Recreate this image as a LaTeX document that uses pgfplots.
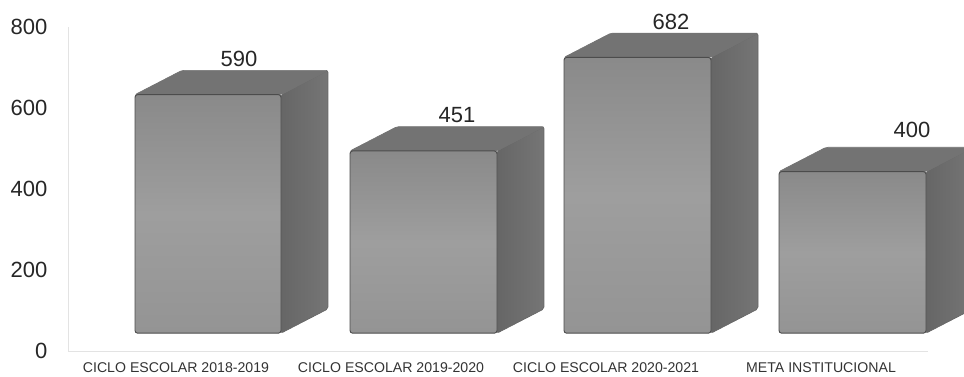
\documentclass[border=0pt]{standalone}
\usepackage{fontspec}
\setmainfont{Liberation Sans}
\usepackage{pgfplots}
\pgfplotsset{compat=1.18}
\definecolor{axisgray}{gray}{0.89}
\definecolor{edgedark}{gray}{0.30}
\pgfplotsset{
  front/.style={draw=edgedark,line width=0.7pt,rounded corners=2pt,top color=black!46,bottom color=black!42,middle color=black!38},
  side/.style={draw=black!60,line width=0.5pt,rounded corners=1.5pt,left color=black!60,right color=black!54},
  topf/.style={draw=black!55,line width=0.5pt,rounded corners=1.5pt,fill=black!55},
}
\begin{document}
\begin{tikzpicture}
\clip[use as bounding box] (0,0) rectangle (723pt,282pt);
\begin{axis}[
  at={(51pt,18.75pt)},anchor=south west,
  scale only axis,width=645pt,height=243pt,
  xmin=68,xmax=928,ymin=0,ymax=800,
  clip=false,
  axis lines=left,
  axis line style={draw=axisgray,-,line width=0.5pt},
  tick style={draw=none},
  major tick length=0pt,
  xtick={176,391,606,821},
  xticklabels={CICLO ESCOLAR 2018-2019,CICLO ESCOLAR 2019-2020,CICLO ESCOLAR 2020-2021,META INSTITUCIONAL},
  x tick label style={font=\fontsize{10.6}{12}\selectfont,text=black!80,yshift=-5pt},
  ytick={0,200,400,600,800},
  y tick label style={font=\fontsize{16.5}{18}\selectfont,text=black!85,xshift=-12pt},
  /pgf/number format/assume math mode=true,
]
% bar 1: 590
\addplot[side] coordinates {(281,44)(328,104)(328,693)(281,633)} -- cycle;
\addplot[topf] coordinates {(135,633)(182,693)(328,693)(281,633)} -- cycle;
\addplot[front] coordinates {(135,44)(281,44)(281,633)(135,633)} -- cycle;
% bar 2: 451
\addplot[side] coordinates {(497,44)(544,104)(544,554)(497,494)} -- cycle;
\addplot[topf] coordinates {(350,494)(397,554)(544,554)(497,494)} -- cycle;
\addplot[front] coordinates {(350,44)(497,44)(497,494)(350,494)} -- cycle;
% bar 3: 682
\addplot[side] coordinates {(711,44)(758,104)(758,785)(711,725)} -- cycle;
\addplot[topf] coordinates {(564,725)(611,785)(758,785)(711,725)} -- cycle;
\addplot[front] coordinates {(564,44)(711,44)(711,725)(564,725)} -- cycle;
% bar 4: 400
\addplot[side] coordinates {(926,44)(973,104)(973,503)(926,443)} -- cycle;
\addplot[topf] coordinates {(779,443)(826,503)(973,503)(926,443)} -- cycle;
\addplot[front] coordinates {(779,44)(926,44)(926,443)(779,443)} -- cycle;
% value labels
\addplot[draw=none,mark=none,point meta=explicit,
  nodes near coords,
  every node near coord/.append style={font=\fontsize{16.5}{18}\selectfont,text=black!85,anchor=south,inner sep=0pt,yshift=2.5pt,
    /pgf/number format/assume math mode=true}]
  coordinates {(239,693)[590] (457,554)[451] (671,785)[682] (912,518)[400]};
\end{axis}
\end{tikzpicture}
\end{document}
